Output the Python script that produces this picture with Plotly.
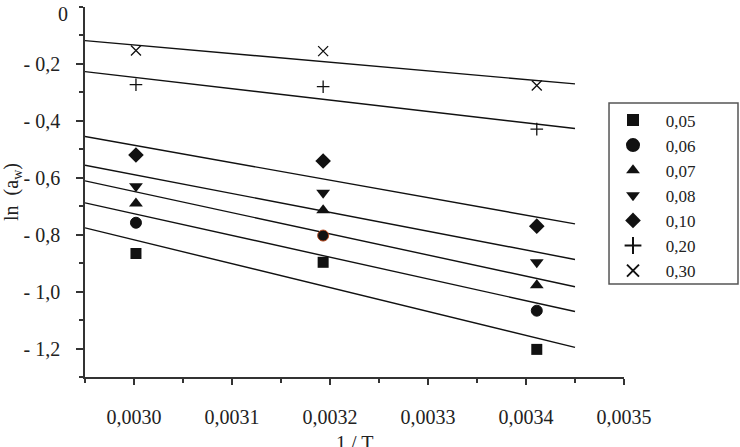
import plotly.graph_objects as go

# ---- data ----
inv_T = [0.003002, 0.003193, 0.003411]          # 1/T for the three temperatures
series_names = ["0,05", "0,06", "0,07", "0,08", "0,10", "0,20", "0,30"]
ln_aw_005 = [-0.866, -0.897, -1.203]
ln_aw_006 = [-0.758, -0.803, -1.067]
ln_aw_007 = [-0.690, -0.714, -0.978]
ln_aw_008 = [-0.630, -0.653, -0.897]
ln_aw_010 = [-0.520, -0.541, -0.770]
ln_aw_020 = [-0.273, -0.280, -0.429]
ln_aw_030 = [-0.153, -0.155, -0.276]
series_values = [ln_aw_005, ln_aw_006, ln_aw_007, ln_aw_008, ln_aw_010, ln_aw_020, ln_aw_030]

# model lines (value at the two ends of the line)
line_x = [0.00295, 0.00345]
line_start = [-0.776, -0.688, -0.611, -0.556, -0.455, -0.227, -0.118]
line_end = [-1.196, -1.070, -0.983, -0.887, -0.762, -0.427, -0.270]

y_tickvals = [-0.2, -0.4, -0.6, -0.8, -1.0, -1.2]
y_ticktext = ["- 0,2", "- 0,4", "- 0,6", "- 0,8", "- 1,0", "- 1,2"]
y_top_label = "0"
x_tickvals = [0.0030, 0.0031, 0.0032, 0.0033, 0.0034, 0.0035]
x_ticktext = ["0,0030", "0,0031", "0,0032", "0,0033", "0,0034", "0,0035"]
x_title = "1 / T"

symbols = ["square", "circle", "triangle-up", "triangle-down", "diamond", "cross-thin", "x-thin"]
sizes = [11, 11, 12, 12, 12, 9, 10]

FONT = "Liberation Serif, Times New Roman, serif"
fig = go.Figure()

for s, e in zip(line_start, line_end):
    fig.add_trace(go.Scatter(x=line_x, y=[s, e], mode="lines",
                             line=dict(color="#111", width=1.4),
                             showlegend=False, hoverinfo="skip"))

NB = "\u00a0"
for i, (name, vals) in enumerate(zip(series_names, series_values)):
    thin = symbols[i].endswith("thin")
    if thin:
        mline = dict(color="#111", width=1.3)
    elif name == "0,06":
        mline = dict(color=["#111", "#b5461c", "#111"], width=1)
    else:
        mline = dict(color="#111", width=0)
    fig.add_trace(go.Scatter(
        x=inv_T, y=vals, mode="markers", name=NB * 3 + name,
        marker=dict(symbol=symbols[i], size=sizes[i], color="#111", line=mline),
    ))

fig.update_layout(
    width=740, height=447,
    margin=dict(l=85, r=116, t=7, b=70, autoexpand=False),
    paper_bgcolor="white", plot_bgcolor="white",
    font=dict(family=FONT, size=20, color="#222"),
    legend=dict(x=0.9796, y=0.742, xanchor="left", yanchor="top",
                borderwidth=0, bgcolor="rgba(0,0,0,0)",
                font=dict(family=FONT, size=17, color="#222"),
                tracegroupgap=0, itemsizing="constant"),
    showlegend=True,
    shapes=[dict(type="rect", xref="paper", yref="paper",
                 x0=0.9722, x1=1.2115, y0=0.2514, y1=0.7405,
                 line=dict(color="#555", width=1.5), fillcolor="rgba(0,0,0,0)")],
    annotations=[
        dict(x=0, xref="paper", y=0, yref="y", text=y_top_label,
             xanchor="right", yanchor="middle", xshift=-15, yshift=-7,
             showarrow=False, font=dict(family=FONT, size=20, color="#222")),
        dict(x=0.5, xref="paper", y=0, yref="paper", text=x_title,
             xanchor="center", yanchor="top", yshift=-53,
             showarrow=False, font=dict(family=FONT, size=20, color="#222")),
    ],
)

fig.update_xaxes(
    range=[0.00295, 0.0035], tickmode="array", tickvals=x_tickvals, ticktext=x_ticktext,
    showline=True, linecolor="#333", linewidth=1.5, mirror=False, automargin=False,
    ticks="outside", ticklen=6, tickwidth=1.5, tickcolor="#333",
    showgrid=False, zeroline=False, ticklabelstandoff=15,
    minor=dict(tickmode="linear", tick0=0.00295, dtick=0.00005, ticks="outside",
               ticklen=4, tickwidth=1.5, tickcolor="#333", showgrid=False),
)
fig.update_yaxes(
    range=[-1.3, 0], tickmode="array", tickvals=y_tickvals, ticktext=y_ticktext,
    showline=True, linecolor="#333", linewidth=1.5, mirror=False, automargin=False,
    ticks="outside", ticklen=7, tickwidth=1.5, tickcolor="#333",
    showgrid=False, zeroline=False, ticklabelstandoff=12,
    minor=dict(tickmode="linear", tick0=0, dtick=0.1, ticks="outside",
               ticklen=4, tickwidth=1.5, tickcolor="#333", showgrid=False),
    title=dict(text="ln  (a<sub>w</sub>)", font=dict(family=FONT, size=20, color="#222"), standoff=4),
)

fig.write_html("out.html")
